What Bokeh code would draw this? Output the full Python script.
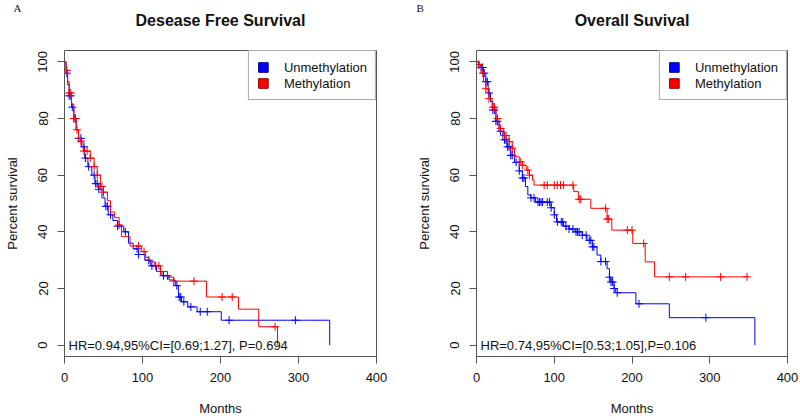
import numpy as np
from bokeh.plotting import figure
from bokeh.models import Range1d, FixedTicker, Legend, LegendItem, Label
from bokeh.layouts import row, column
from bokeh.embed import file_html
from bokeh.resources import INLINE

# ---------------- data ----------------
x_ticks = [0, 100, 200, 300, 400]
y_ticks = [0, 20, 40, 60, 80, 100]
group_labels = ["Unmethylation", "Methylation"]

# Panel A: Desease Free Survival (Kaplan-Meier steps: time in months, percent survival)
dfs_unmeth_time = [0, 2, 4, 6, 9, 12, 15, 18, 22, 26, 30, 35, 39, 44, 48, 52, 56, 62, 68, 76,
                   82, 88, 95, 103, 110, 118, 125, 134, 142, 146, 150, 158, 170, 201, 340]
dfs_unmeth_surv = [100, 96, 92, 88, 84, 80, 76, 73, 70, 66, 63, 60, 57, 55, 52, 49, 46, 44, 42, 40,
                   36, 34, 32, 30, 28, 26, 24.5, 23, 21, 17, 15.3, 13.5, 11.8, 8.8, 0]
dfs_unmeth_censor = [3, 6, 8, 10, 12, 14, 18, 21, 25, 27, 31, 38, 40, 42, 44, 53, 55, 59, 68, 78,
                     93, 95, 108, 112, 117, 127, 132, 144, 147, 149, 153, 162, 174, 183, 211, 296]

dfs_meth_time = [0, 2, 4, 6, 9, 12, 15, 18, 24, 33, 38, 42, 46, 50, 55, 59, 64, 70, 73, 84,
                 99, 104, 108, 115, 123, 132, 140, 182, 223, 249, 273]
dfs_meth_surv = [100, 97, 93, 89, 85, 80, 76, 72, 68.5, 66, 63, 60, 56, 54, 51, 47, 45, 42.4, 38.3, 35,
                 33, 31, 29.5, 28, 26, 24, 22.6, 17, 12.7, 6.5, 0]
dfs_meth_censor = [3, 6, 8, 12, 14, 16, 21, 25, 29, 33, 38, 42, 46, 48, 50, 70, 95, 102, 121, 123,
                   140, 166, 202, 215, 270]
dfs_hr_text = "HR=0.94,95%CI=[0.69;1.27], P=0.694"

# Panel B: Overall Suvival
os_unmeth_time = [0, 3, 6, 9, 12, 15, 18, 21, 25, 29, 34, 39, 44, 49, 55, 59, 63, 66, 70, 76,
                  96, 100, 103, 112, 119, 127, 136, 142, 149, 155, 160, 168, 171, 173, 177, 179, 205, 248, 358]
os_unmeth_surv = [100, 99, 98, 96, 93, 89, 86, 83, 79, 75.5, 72.5, 70, 67, 64.5, 61.5, 59, 56, 53, 52, 50.5,
                  48.5, 46, 43.5, 42, 41, 40, 38.8, 37, 34.7, 31.8, 29.5, 27, 24, 22.3, 20, 18.5, 14.6, 9.7, 0]
os_unmeth_censor = [3, 6, 8, 10, 12, 14, 16, 21, 23, 25, 27, 31, 36, 38, 40, 42, 44, 46, 51, 55,
                    59, 61, 70, 74, 79, 81, 83, 85, 91, 94, 96, 100, 104, 109, 111, 115, 119, 124, 128, 130,
                    132, 136, 141, 145, 147, 149, 151, 160, 166, 171, 173, 175, 177, 181, 209, 295]

os_meth_time = [0, 3, 6, 9, 12, 16, 20, 25, 29, 35, 42, 46, 49, 55, 59, 64, 68, 72, 74, 125,
                131, 147, 168, 174, 201, 217, 229, 348]
os_meth_surv = [100, 99, 96, 93, 90.5, 87, 84, 80, 76.5, 74, 71.8, 69.5, 66.5, 64.7, 63.5, 61.8, 60, 58.3, 56.5, 54.2,
                51.5, 48.3, 44.5, 40.6, 35.9, 29.4, 24.1, 24.1]
os_meth_censor = [3, 8, 12, 16, 21, 23, 27, 31, 36, 38, 42, 46, 57, 59, 66, 68, 87, 91, 100, 104,
                  108, 112, 124, 132, 134, 166, 168, 170, 194, 200, 215, 248, 269, 314, 348]
os_hr_text = "HR=0.74,95%CI=[0.53;1.05],P=0.106"

# ---------------- styling ----------------
FONT = "Liberation Sans"
AX = "#555555"
TXT = "#111111"
BLUE = "#0000FF"
RED = "#FF0000"
W = 400          # width of each panel
HEAD_H = 49      # header strip (panel letter + title)
PLOT_H = 371     # plot area below it


def surv_at(times, survs, t):
    times = np.asarray(times, dtype=float)
    survs = np.asarray(survs, dtype=float)
    idx = np.searchsorted(times, np.asarray(t, dtype=float), side="right") - 1
    return survs[np.clip(idx, 0, len(survs) - 1)]


def make_header(title, letter, title_cx, letter_x):
    # a frameless strip whose ranges equal its pixel size (y measured upward from its bottom)
    h = figure(width=W, height=HEAD_H, x_range=Range1d(0, W), y_range=Range1d(0, HEAD_H),
               x_axis_type=None, y_axis_type=None, output_backend="svg", toolbar_location=None,
               min_border=0, min_border_left=0, min_border_right=0, min_border_top=0, min_border_bottom=0)
    h.outline_line_color = None
    h.background_fill_color = "white"
    h.border_fill_color = "white"
    h.add_layout(Label(x=letter_x, y=HEAD_H - 1.5, text=letter, text_align="left", text_baseline="top",
                       text_font="Liberation Serif", text_font_size="11px", text_color=TXT))
    h.add_layout(Label(x=title_cx, y=HEAD_H - 20, text=title, text_align="center", text_baseline="middle",
                       text_font=FONT, text_font_size="16px", text_font_style="bold", text_color=TXT))
    return h


def make_panel(tu, su, cu, tm, sm, cm, hr_text, bl, br):
    p = figure(width=W, height=PLOT_H, x_range=Range1d(0, 400), y_range=Range1d(-4, 104),
               output_backend="svg", toolbar_location=None,
               min_border_left=bl, min_border_right=br, min_border_top=1, min_border_bottom=64,
               x_axis_label="Months", y_axis_label="Percent survival")
    p.grid.visible = False
    p.outline_line_color = AX
    p.outline_line_width = 1
    p.background_fill_color = "white"
    p.border_fill_color = "white"

    p.xaxis.ticker = FixedTicker(ticks=x_ticks)
    p.yaxis.ticker = FixedTicker(ticks=y_ticks)
    p.yaxis.bounds = (0, 100)
    p.yaxis.major_label_orientation = "vertical"
    for ax in (p.xaxis[0], p.yaxis[0]):
        ax.axis_line_color = AX
        ax.major_tick_line_color = AX
        ax.major_tick_out = 7
        ax.major_tick_in = 0
        ax.minor_tick_line_color = None
        ax.major_label_text_font = FONT
        ax.major_label_text_font_size = "13px"
        ax.major_label_text_color = TXT
        ax.axis_label_text_font = FONT
        ax.axis_label_text_font_size = "13px"
        ax.axis_label_text_font_style = "normal"
        ax.axis_label_text_color = TXT
    p.xaxis.major_label_standoff = 9
    p.yaxis.major_label_standoff = 10
    p.xaxis.axis_label_standoff = 16
    p.yaxis.axis_label_standoff = 16

    for t, s, c, col in ((tu, su, cu, BLUE), (tm, sm, cm, RED)):
        p.step(x=t, y=s, mode="after", line_color=col, line_width=1)
        p.scatter(x=c, y=surv_at(t, s, c), marker="cross", size=8, line_color=col, line_width=1)

    nan = [np.nan]
    r_u = p.quad(left=nan, right=nan, top=nan, bottom=nan, fill_color=BLUE, line_color="#000088")
    r_m = p.quad(left=nan, right=nan, top=nan, bottom=nan, fill_color=RED, line_color="#880000")
    legend = Legend(items=[LegendItem(label=group_labels[0], renderers=[r_u]),
                           LegendItem(label=group_labels[1], renderers=[r_m])],
                    location="top_right", margin=0, padding=8, spacing=0,
                    glyph_width=12, glyph_height=12, label_height=16, label_standoff=15,
                    label_text_font=FONT, label_text_font_size="13px", label_text_color=TXT,
                    border_line_color=AX, border_line_width=1, background_fill_alpha=1.0)
    p.add_layout(legend)

    p.add_layout(Label(x=0, y=0, x_offset=4, text=hr_text, text_baseline="middle",
                       text_font=FONT, text_font_size="13px", text_color=TXT))
    return p


hA = make_header("Desease Free Survival", "A", title_cx=64 + 312 / 2, letter_x=13)
hB = make_header("Overall Suvival", "B", title_cx=76 + 311 / 2, letter_x=16)
pA = make_panel(dfs_unmeth_time, dfs_unmeth_surv, dfs_unmeth_censor,
                dfs_meth_time, dfs_meth_surv, dfs_meth_censor, dfs_hr_text, bl=64, br=24)
pB = make_panel(os_unmeth_time, os_unmeth_surv, os_unmeth_censor,
                os_meth_time, os_meth_surv, os_meth_censor, os_hr_text, bl=76, br=13)

layout = column(row(hA, hB), row(pA, pB))
open("out.html", "w").write(file_html(layout, INLINE))
